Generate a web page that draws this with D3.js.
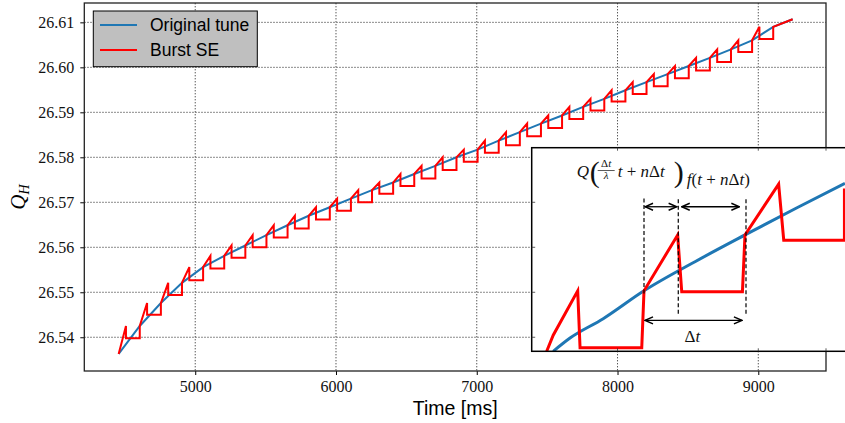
<!DOCTYPE html>
<html>
<head>
<meta charset="utf-8">
<script src="https://cdn.jsdelivr.net/npm/d3@7"></script>
<style>
body { margin: 0; background: white; }
</style>
</head>
<body>
<div class="chart"></div>
<script>
// values
// start of each burst period (ms) and the original tune there
var periodStart = [4456, 4606, 4756, 4906, 5056, 5206, 5356, 5506, 5656, 5806, 5956, 6106, 6256, 6406, 6556, 6706,
    6856, 7006, 7156, 7306, 7456, 7606, 7756, 7906, 8056, 8206, 8356, 8506, 8656, 8806, 8956, 9106];
var tuneAtStart = [26.5363, 26.5425, 26.5476, 26.5521, 26.5556, 26.5581, 26.5604, 26.5627, 26.5649, 26.5670, 26.5689,
    26.5708, 26.5727, 26.5744, 26.5763, 26.5781, 26.5800, 26.5817, 26.5837, 26.5856, 26.5875, 26.5893, 26.5912,
    26.5930, 26.5949, 26.5967, 26.5985, 26.6003, 26.6021, 26.6040, 26.6060, 26.6090];
// level the burst tune holds after each burst
var flatLevel = [26.5398, 26.5450, 26.5494, 26.5527, 26.5553, 26.5577, 26.5600, 26.5622, 26.5642, 26.5662, 26.5681,
    26.5700, 26.5719, 26.5736, 26.5753, 26.5772, 26.5790, 26.5810, 26.5827, 26.5847, 26.5865, 26.5885, 26.5904,
    26.5924, 26.5941, 26.5958, 26.5976, 26.5993, 26.6012, 26.6034, 26.6063];
var burstLength = 52;
var lastTime = 9244;
var lastTune = 26.6107;

var xTicks = [5000, 6000, 7000, 8000, 9000];
var yTicks = [26.54, 26.55, 26.56, 26.57, 26.58, 26.59, 26.60, 26.61];

// inset sketch, time in units of dt, tune in arbitrary units
var sketchRedT = [0.046, 0.11, 0.35, 0.373, 0.978, 1.0, 1.33, 1.37, 1.965, 1.99, 2.32, 2.37, 2.965, 2.965];
var sketchRedQ = [0, 0.079, 0.297, 0.018, 0.018, 0.297, 0.571, 0.292, 0.292, 0.571, 0.821, 0.546, 0.546, 0.80];
var sketchBlueT = [0.11, 0.275, 0.6, 1.0, 1.5, 2.0, 2.5, 2.97];
var sketchBlueQ = [0, 0.065, 0.16, 0.297, 0.44, 0.574, 0.705, 0.825];

var svgWidth = 845;
var svgHeight = 423;
var serif = "'Liberation Serif', 'DejaVu Serif', 'Times New Roman', serif";
var sans = "'Liberation Sans', Arial, sans-serif";

var svg = d3.select(".chart").append("svg")
    .attr("width", svgWidth)
    .attr("height", svgHeight)
    .style("display", "block");

var plot = {left: 84.3, right: 826, top: 3, bottom: 371};

var xScale = d3.scaleLinear().domain([4212, 9481]).range([plot.left, plot.right]);
var yScale = d3.scaleLinear().domain([26.5325, 26.6143]).range([plot.bottom, plot.top]);

// grid
var grid = svg.append("g");
grid.selectAll(".vgrid").data(xTicks).enter().append("line")
    .attr("x1", d => xScale(d)).attr("x2", d => xScale(d))
    .attr("y1", plot.top).attr("y2", plot.bottom)
    .attr("stroke", "#444").attr("stroke-width", 0.9).attr("stroke-dasharray", "1.4,1.6");
grid.selectAll(".hgrid").data(yTicks).enter().append("line")
    .attr("y1", d => yScale(d)).attr("y2", d => yScale(d))
    .attr("x1", plot.left).attr("x2", plot.right)
    .attr("stroke", "#444").attr("stroke-width", 0.9).attr("stroke-dasharray", "1.4,1.6");

// series
var bluePts = periodStart.map((t, i) => [t, tuneAtStart[i]]);
bluePts.push([lastTime, lastTune]);

var redPts = [];
for (var i = 0; i < periodStart.length - 1; i++) {
    redPts.push([periodStart[i], tuneAtStart[i]]);
    redPts.push([periodStart[i] + burstLength, tuneAtStart[i + 1]]);
    redPts.push([periodStart[i] + burstLength, flatLevel[i]]);
    redPts.push([periodStart[i + 1], flatLevel[i]]);
}
redPts.push([periodStart[periodStart.length - 1], tuneAtStart[tuneAtStart.length - 1]]);
redPts.push([lastTime, lastTune]);

var line = d3.line().x(d => xScale(d[0])).y(d => yScale(d[1]));

svg.append("path").datum(bluePts)
    .attr("d", line).attr("fill", "none")
    .attr("stroke", "#1f77b4").attr("stroke-width", 2);
svg.append("path").datum(redPts)
    .attr("d", line).attr("fill", "none")
    .attr("stroke", "#ff0000").attr("stroke-width", 2).attr("stroke-linejoin", "miter");

// axes
var xAxis = d3.axisBottom(xScale).tickValues(xTicks).tickFormat(d3.format("d")).tickSize(4).tickPadding(6);
var yAxis = d3.axisLeft(yScale).tickValues(yTicks).tickFormat(d3.format(".2f")).tickSize(4).tickPadding(6);

function styleAxis(g) {
    g.select(".domain").remove();
    g.attr("font-family", null).attr("font-size", null);
    g.selectAll(".tick text")
        .style("font-family", serif).style("font-size", "16px").attr("fill", "#111");
}

svg.append("g").attr("transform", `translate(0, ${plot.bottom})`).call(xAxis).call(styleAxis);
svg.append("g").attr("transform", `translate(${plot.left}, 0)`).call(yAxis).call(styleAxis);

svg.append("rect")
    .attr("x", plot.left).attr("y", plot.top)
    .attr("width", plot.right - plot.left).attr("height", plot.bottom - plot.top)
    .attr("fill", "none").attr("stroke", "#222").attr("stroke-width", 1.3);

// axis labels
svg.append("text")
    .attr("x", (plot.left + plot.right) / 2).attr("y", 415)
    .attr("text-anchor", "middle")
    .style("font-family", sans).style("font-size", "19.5px")
    .text("Time [ms]");

var ylab = svg.append("text")
    .attr("transform", "translate(25, 197) rotate(-90)")
    .attr("text-anchor", "middle")
    .style("font-family", serif).style("font-style", "italic");
ylab.append("tspan").style("font-size", "21px").text("Q");
ylab.append("tspan").style("font-size", "14px").attr("dy", 4).text("H");

// legend
var legend = svg.append("g");
legend.append("rect")
    .attr("x", 93.3).attr("y", 11).attr("width", 164).attr("height", 55.7)
    .attr("fill", "#bfbfbf").attr("stroke", "#000").attr("stroke-width", 1);
var legendItems = [{name: "Original tune", color: "#1f77b4"}, {name: "Burst SE", color: "#ff0000"}];
legendItems.forEach(function (item, i) {
    var ly = 25 + i * 25;
    legend.append("line")
        .attr("x1", 100).attr("x2", 137).attr("y1", ly).attr("y2", ly)
        .attr("stroke", item.color).attr("stroke-width", 2);
    legend.append("text")
        .attr("x", 150).attr("y", ly + 6.3)
        .style("font-family", sans).style("font-size", "17.5px")
        .text(item.name);
});

// inset sketch
var inset = {left: 531.7, top: 147.7, bottom: 351.3};
var sx = d3.scaleLinear().domain([0, 1]).range([542, 644]);
var sy = d3.scaleLinear().domain([0, 1]).range([inset.bottom, inset.top]);

var defs = svg.append("defs");
defs.append("clipPath").attr("id", "insetClip")
    .append("rect").attr("x", inset.left).attr("y", inset.top)
    .attr("width", 400).attr("height", inset.bottom - inset.top);

var ins = svg.append("g");
ins.append("rect")
    .attr("x", inset.left).attr("y", inset.top)
    .attr("width", 400).attr("height", inset.bottom - inset.top)
    .attr("fill", "white");

var insLines = ins.append("g").attr("clip-path", "url(#insetClip)");
insLines.append("path")
    .datum(sketchBlueT.map((t, i) => [t, sketchBlueQ[i]]))
    .attr("d", d3.line().x(d => sx(d[0])).y(d => sy(d[1])).curve(d3.curveMonotoneX)).attr("fill", "none")
    .attr("stroke", "#1f77b4").attr("stroke-width", 3);
insLines.append("path")
    .datum(sketchRedT.map((t, i) => [t, sketchRedQ[i]]))
    .attr("d", d3.line().x(d => sx(d[0])).y(d => sy(d[1]))).attr("fill", "none")
    .attr("stroke", "#ff0000").attr("stroke-width", 3).attr("stroke-linejoin", "miter");

// dashed markers of t + n dt
var dashes = [[1.0, 0.284, 0.754], [1.336, 0.185, 0.754], [2.0, 0.185, 0.754]];
ins.selectAll(".dash").data(dashes).enter().append("line")
    .attr("x1", d => sx(d[0])).attr("x2", d => sx(d[0]))
    .attr("y1", d => sy(d[1])).attr("y2", d => sy(d[2]))
    .attr("stroke", "#000").attr("stroke-width", 1.2).attr("stroke-dasharray", "4,2.5");

defs.append("marker")
    .attr("id", "head").attr("viewBox", "-10 -5 11 10")
    .attr("refX", 0).attr("refY", 0)
    .attr("markerWidth", 11).attr("markerHeight", 10)
    .attr("markerUnits", "userSpaceOnUse")
    .attr("orient", "auto-start-reverse")
    .append("path").attr("d", "M-8,-3.5 L0,0 L-8,3.5")
    .attr("fill", "none").attr("stroke", "#000").attr("stroke-width", 1.4);

var arrows = [[1.01, 1.32, 0.71], [1.37, 1.935, 0.71], [1.01, 1.96, 0.152]];
ins.selectAll(".arrow").data(arrows).enter().append("line")
    .attr("x1", d => sx(d[0])).attr("x2", d => sx(d[1]))
    .attr("y1", d => sy(d[2])).attr("y2", d => sy(d[2]))
    .attr("stroke", "#000").attr("stroke-width", 1.3)
    .attr("marker-start", "url(#head)").attr("marker-end", "url(#head)");

// inset border and small ticks
ins.append("rect")
    .attr("x", inset.left).attr("y", inset.top)
    .attr("width", 400).attr("height", inset.bottom - inset.top)
    .attr("fill", "none").attr("stroke", "#000").attr("stroke-width", 1.5);
var insXTicks = [xScale(8000), xScale(9000), plot.right];
ins.selectAll(".itx").data(insXTicks).enter().append("path")
    .attr("d", d => `M${d},${inset.top}v3M${d},${inset.bottom}v-3`)
    .attr("stroke", "#333").attr("stroke-width", 0.8);
ins.selectAll(".ity").data([26.54, 26.55, 26.56, 26.57]).enter().append("path")
    .attr("d", d => `M${inset.left},${yScale(d)}h3.5`)
    .attr("stroke", "#333").attr("stroke-width", 0.8);

// formula labels
var fq = ins.append("g").attr("transform", `translate(${sx(0.34)}, ${sy(0.856)})`)
    .style("font-family", serif).attr("fill", "#111");
fq.append("text").attr("x", 0).attr("y", 0).style("font-style", "italic").style("font-size", "17px").text("Q");
fq.append("text").attr("x", 13).attr("y", 5).style("font-size", "30px").text("(");
fq.append("text").attr("x", 29.5).attr("y", -10).attr("text-anchor", "middle").style("font-size", "11px")
    .html("Δ<tspan font-style='italic'>t</tspan>");
fq.append("line").attr("x1", 21).attr("x2", 38).attr("y1", -6.5).attr("y2", -6.5)
    .attr("stroke", "#111").attr("stroke-width", 0.7);
fq.append("text").attr("x", 29.5).attr("y", 2).attr("text-anchor", "middle").style("font-size", "11px")
    .style("font-style", "italic").text("λ");
fq.append("text").attr("x", 41).attr("y", 0).style("font-size", "17px")
    .html("<tspan font-style='italic'>t</tspan> + <tspan font-style='italic'>n</tspan>Δ<tspan font-style='italic'>t</tspan>");
fq.append("text").attr("x", 97).attr("y", 5).style("font-size", "30px").text(")");

ins.append("text")
    .attr("x", sx(1.42)).attr("y", sy(0.816))
    .style("font-family", serif).style("font-size", "17px").attr("fill", "#111")
    .html("<tspan font-style='italic'>f</tspan>(<tspan font-style='italic'>t</tspan> + <tspan font-style='italic'>n</tspan>Δ<tspan font-style='italic'>t</tspan>)");

ins.append("text")
    .attr("x", sx(1.475)).attr("y", sy(0.046))
    .attr("text-anchor", "middle")
    .style("font-family", serif).style("font-size", "17px").attr("fill", "#111")
    .html("Δ<tspan font-style='italic'>t</tspan>");
</script>
</body>
</html>
